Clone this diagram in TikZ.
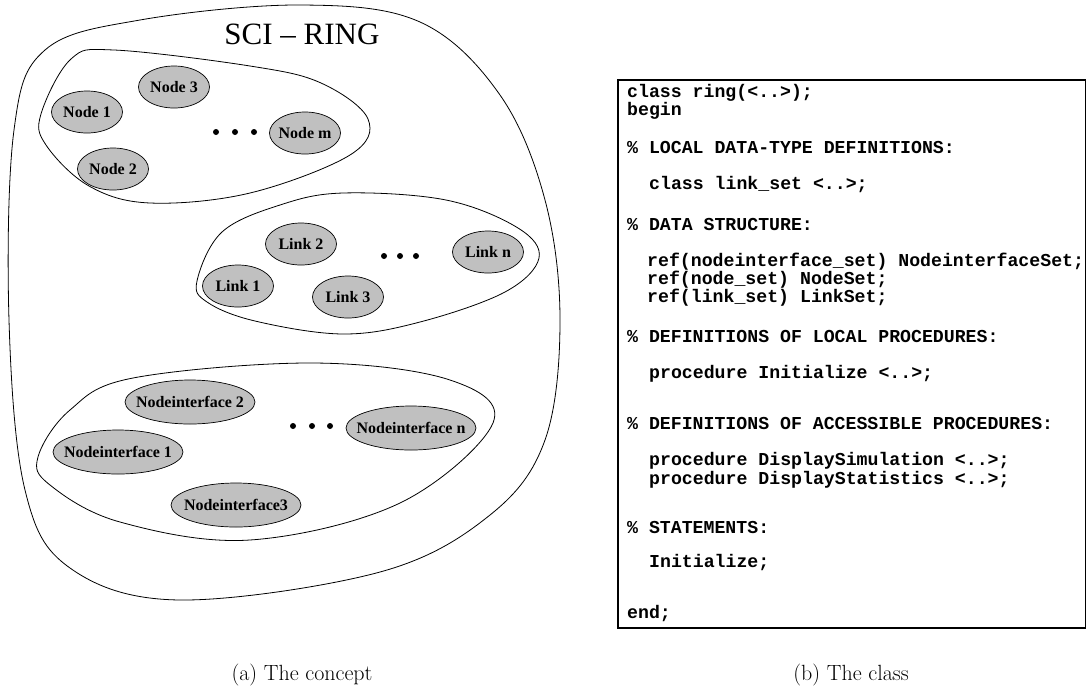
\documentclass[tikz,border=0pt]{standalone}
\usepackage{fontspec}
\newfontfamily\timesfont{Liberation Serif}
\newfontfamily\courfont{Liberation Mono}
\usetikzlibrary{shapes.geometric,positioning}
\definecolor{elemgray}{HTML}{C0C0C0}

\begin{document}
\begin{tikzpicture}[
    x=1pt, y=-1pt,
    blob/.style={draw=black, line width=0.8pt},
    elem/.style={ellipse, draw=black, fill=elemgray, line width=0.7pt, minimum width=71pt, minimum height=42pt, inner xsep=-3pt, inner ysep=0pt, font=\timesfont\bfseries\fontsize{16}{18}\selectfont},
    wideelem/.style={elem, minimum width=130pt, minimum height=44pt, inner xsep=-10pt},
    codeline/.style={anchor=base west, inner sep=0pt, font=\courfont\bfseries\fontsize{18.2}{18}\selectfont},
    caption/.style={anchor=base, font=\fontsize{22}{24}\selectfont}
]
\useasboundingbox (0,0) rectangle (1086,689);

% Ring outline
\draw[blob] plot[smooth cycle, tension=0.6] coordinates {(300,5) (420,22) (500,95) (545,200) (560,320) (545,440) (490,515) (380,572) (180,600) (70,568) (25,490) (9,320) (14,130) (45,50) (140,20)};
\node (title) [font=\timesfont\fontsize{31}{34}\selectfont, anchor=base] at (302,44) {SCI – RING};

% Node set
\draw[blob] plot[smooth cycle, tension=0.6] coordinates {(41,114) (71,59) (114,50) (250,66) (321,83) (368,119) (350,155) (250,193) (150,203) (89,186) (46,145)};
\node (node3) [elem] at (174,87) {Node 3};
\node (node1) [elem] at (87,112) {Node 1};
\node (node2) [elem] at (113,169) {Node 2};
\node (nodem) [elem] at (305,133) {Node m};
\foreach \x in {216,235,254} \fill (\x,132) circle (3pt);

% Link set
\draw[blob] plot[smooth cycle, tension=0.6] coordinates {(197,281) (222,232) (280,205) (343,193) (446,200) (518,228) (539,258) (505,292) (420,322) (343,334) (255,321) (207,302)};
\node (link2) [elem] at (301,244) {Link 2};
\node (linkn) [elem] at (488,252) {Link n};
\node (link1) [elem] at (238,286) {Link 1};
\node (link3) [elem] at (348,297) {Link 3};
\foreach \x in {384,400,416} \fill (\x,256) circle (3pt);

% Nodeinterface set
\draw[blob] plot[smooth cycle, tension=0.6] coordinates {(38,457) (70,410) (133,378) (313,363) (450,380) (493,423) (400,503) (250,540) (120,522) (50,485)};
\node (ni2) [wideelem] at (190,402) {Nodeinterface 2};
\node (ni1) [wideelem] at (118,452) {Nodeinterface 1};
\node (nin) [wideelem] at (411,428) {Nodeinterface n};
\node (ni3) [wideelem] at (236,505) {Nodeinterface3};
\foreach \x in {293,312,330} \fill (\x,426) circle (3pt);

% Class listing
\node (classbox) [draw, line width=2pt, minimum width=468pt, minimum height=548pt, inner sep=0pt, anchor=north west] at (617,79) {};
\node (c1)  [codeline] at (627,97)  {class ring(<..>);};
\node (c2)  [codeline] at (627,115) {begin};
\node (c3)  [codeline] at (627,153) {\% LOCAL DATA-TYPE DEFINITIONS:};
\node (c4)  [codeline] at (649,189) {class link\_set <..>;};
\node (c5)  [codeline] at (627,230) {\% DATA STRUCTURE:};
\node (c6)  [codeline] at (647,266) {ref(nodeinterface\_set) NodeinterfaceSet;};
\node (c7)  [codeline] at (647,284) {ref(node\_set) NodeSet;};
\node (c8)  [codeline] at (647,302) {ref(link\_set) LinkSet;};
\node (c9)  [codeline] at (627,342) {\% DEFINITIONS OF LOCAL PROCEDURES:};
\node (c10) [codeline] at (649,378) {procedure Initialize <..>;};
\node (c11) [codeline] at (627,429) {\% DEFINITIONS OF ACCESSIBLE PROCEDURES:};
\node (c12) [codeline] at (649,465) {procedure DisplaySimulation <..>;};
\node (c13) [codeline] at (649,484) {procedure DisplayStatistics <..>;};
\node (c14) [codeline] at (627,533) {\% STATEMENTS:};
\node (c15) [codeline] at (649,567) {Initialize;};
\node (c16) [codeline] at (627,618) {end;};

% Captions
\node (capa) [caption] at (302,680) {(a) The concept};
\node (capb) [caption] at (851,680) {(b) The class};
\end{tikzpicture}
\end{document}
